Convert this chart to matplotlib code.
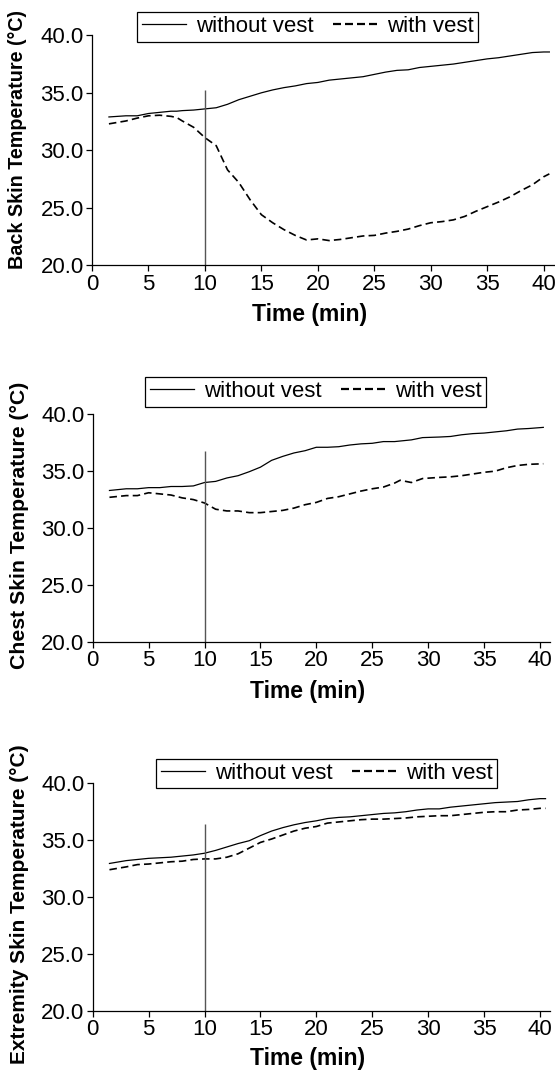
import numpy as np
import matplotlib
matplotlib.use('Agg')
import matplotlib.pyplot as plt

plt.rcParams['font.family'] = ['Liberation Sans', 'DejaVu Sans']

# Back skin temperature
t_back = [1.5, 3, 4, 5, 6, 7, 7.5, 8, 9, 10, 11, 12, 13, 14, 15, 16, 17, 18, 19, 20,
          21, 22, 23, 24, 25, 26, 27, 28, 29, 30, 31, 32, 33, 34, 35, 36, 37, 38, 39, 40, 40.5]
back_without = [32.9, 33.0, 33.0, 33.2, 33.3, 33.4, 33.4, 33.45, 33.5, 33.6, 33.7, 34.0, 34.4, 34.7, 35.0,
                35.25, 35.45, 35.6, 35.8, 35.9, 36.1, 36.2, 36.3, 36.4, 36.6, 36.8, 36.95, 37.0, 37.2, 37.3,
                37.4, 37.5, 37.65, 37.8, 37.95, 38.05, 38.2, 38.35, 38.5, 38.55, 38.55]
back_with = [32.3, 32.55, 32.8, 33.0, 33.05, 32.95, 32.85, 32.55, 32.0, 31.1, 30.4, 28.3, 27.2, 25.7, 24.4,
             23.7, 23.1, 22.6, 22.2, 22.3, 22.15, 22.25, 22.4, 22.55, 22.6, 22.8, 22.95, 23.15, 23.45, 23.7,
             23.8, 23.95, 24.25, 24.7, 25.1, 25.5, 25.95, 26.5, 27.0, 27.7, 27.95]

# Chest skin temperature
t_chest = [1.5, 3, 4, 5, 6, 7, 8, 9, 10, 11, 12, 13, 14, 15, 16, 17, 18, 19, 20, 21, 22, 23, 24, 25,
           26, 27, 27.5, 28.5, 29.5, 31, 32, 33, 34, 35, 36, 37, 38, 39, 40.3]
chest_without = [33.3, 33.45, 33.45, 33.55, 33.55, 33.65, 33.65, 33.7, 34.0, 34.1, 34.4, 34.6, 34.95, 35.35,
                 35.95, 36.3, 36.6, 36.8, 37.1, 37.1, 37.15, 37.3, 37.4, 37.45, 37.6, 37.6, 37.65, 37.75,
                 37.95, 38.0, 38.05, 38.2, 38.3, 38.35, 38.45, 38.55, 38.7, 38.75, 38.85]
chest_with = [32.7, 32.85, 32.85, 33.1, 33.0, 32.9, 32.65, 32.5, 32.2, 31.65, 31.5, 31.5, 31.35, 31.35,
              31.45, 31.55, 31.75, 32.05, 32.25, 32.6, 32.75, 33.0, 33.25, 33.45, 33.6, 33.95, 34.2, 34.0,
              34.35, 34.45, 34.5, 34.6, 34.75, 34.9, 35.0, 35.3, 35.5, 35.6, 35.65]

# Extremity skin temperature
t_ext = [1.5, 3, 4, 5, 6, 7, 8, 9, 10, 11, 12, 13, 14, 15, 16, 17, 18, 19, 20, 21, 22, 23, 24, 25,
         26, 27, 28, 29, 30, 31, 32, 33, 34, 35, 36, 37, 38, 39, 40, 40.5]
ext_without = [32.95, 33.2, 33.3, 33.4, 33.45, 33.5, 33.6, 33.7, 33.85, 34.1, 34.4, 34.7, 34.95, 35.4,
               35.8, 36.1, 36.35, 36.55, 36.7, 36.9, 37.0, 37.05, 37.15, 37.25, 37.35, 37.4, 37.5, 37.65,
               37.75, 37.75, 37.9, 38.0, 38.1, 38.2, 38.3, 38.35, 38.4, 38.55, 38.65, 38.65]
ext_with = [32.4, 32.65, 32.85, 32.9, 33.0, 33.1, 33.15, 33.3, 33.35, 33.35, 33.5, 33.8, 34.3, 34.8,
            35.1, 35.45, 35.8, 36.05, 36.2, 36.5, 36.6, 36.7, 36.8, 36.85, 36.85, 36.9, 36.95, 37.05,
            37.1, 37.15, 37.15, 37.25, 37.35, 37.45, 37.5, 37.5, 37.65, 37.7, 37.8, 37.8]

ylabels = ['Back Skin Temperature (°C)', 'Chest Skin Temperature (°C)', 'Extremity Skin Temperature (°C)']
vline_top = [35.2, 36.8, 36.4]
yticks = [20.0, 25.0, 30.0, 35.0, 40.0]
xticks = [0, 5, 10, 15, 20, 25, 30, 35, 40]

panels = [
    (t_back, back_without, back_with),
    (t_chest, chest_without, chest_with),
    (t_ext, ext_without, ext_with),
]

W, H = 555, 1071
fig = plt.figure(figsize=(W / 100, H / 100), dpi=100)

# axes rectangles in pixels: left, top, right, bottom
rects = [(92, 35.3, 555, 265.3), (92.7, 414.3, 550, 641.7), (92.7, 783.3, 550, 1010.7)]
xmax = [41.0, 40.9, 40.9]
leg_pos = [(0.466, 1.038), (0.488, 1.100), (0.512, 1.043)]
xlab_gap = [38, 38, 36]   # px from axis line to top of the x label
ylab_y = [0.545, 0.51, 0.47]
ylab_size = [14.2, 15.3, 15.0]

for i, (t, wo, wi) in enumerate(panels):
    l, tp, r, b = rects[i]
    ax = fig.add_axes([l / W, 1 - b / H, (r - l) / W, (b - tp) / H])
    ax.plot(t, wo, color='black', lw=0.9, label='without vest')
    ax.plot(t, wi, color='black', lw=1.2, ls=(0, (4.5, 2.5)), label='with vest')
    ax.vlines(10, 20, vline_top[i], color='#555555', lw=1.0)
    ax.set_xlim(0, xmax[i])
    ax.set_ylim(20, 40)
    ax.set_xticks(xticks)
    ax.set_yticks(yticks)
    ax.set_yticklabels(['%.1f' % v for v in yticks])
    for s in ['top', 'right']:
        ax.spines[s].set_visible(False)
    for s in ['left', 'bottom']:
        ax.spines[s].set_linewidth(0.9)
    ax.tick_params(axis='both', direction='out', length=4, width=0.9, labelsize=16, pad=2)
    ax.set_xlabel('Time (min)', fontsize=16.5, fontweight='bold')
    ax.xaxis.set_label_coords(0.47, -xlab_gap[i] / (b - tp))
    ax.set_ylabel(ylabels[i], fontsize=ylab_size[i], fontweight='bold')
    ax.yaxis.set_label_coords(-0.14, ylab_y[i])
    leg = ax.legend(ncol=2, loc='center', bbox_to_anchor=leg_pos[i], fontsize=16,
                    frameon=True, fancybox=False, edgecolor='black', framealpha=1,
                    handlelength=2.0, handletextpad=0.45, columnspacing=0.85,
                    borderpad=0.2, borderaxespad=0)
    leg.get_frame().set_linewidth(0.9)
    leg.legend_handles[1].set_linewidth(1.6)
    leg.legend_handles[1].set_linestyle((0, (3.6, 1.8)))

fig.savefig('out.png', dpi=100)
